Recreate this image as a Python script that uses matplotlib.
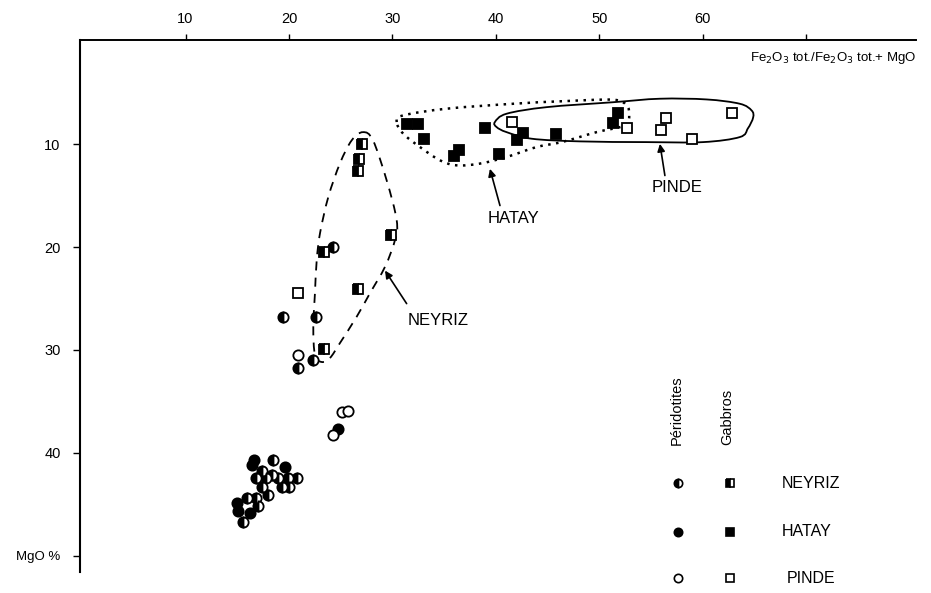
import numpy as np
import matplotlib.pyplot as plt
from matplotlib.path import Path
from matplotlib.patches import PathPatch

plt.rcParams['font.family'] = ['Liberation Sans', 'DejaVu Sans']

# --- peridotites (circles) ---
ney_per_x = [24.28, 19.39, 22.58, 20.90, 22.35,
             18.43, 17.36, 18.33, 16.78, 17.75, 18.97, 19.93, 20.74,
             19.29, 20.03, 17.36, 17.94, 15.91, 16.78, 17.03, 15.58]
ney_per_y = [20.03, 26.83, 26.83, 31.78, 30.97,
             40.68, 41.75, 42.14, 42.46, 42.46, 42.46, 42.46, 42.46,
             43.37, 43.37, 43.37, 44.15, 44.40, 44.40, 45.21, 46.73]
hat_per_x = [24.76, 16.65, 16.45, 19.61, 14.95, 15.10, 16.23]
hat_per_y = [37.70, 40.68, 41.17, 41.43, 44.88, 45.70, 45.85]
pin_per_x = [20.90, 25.09, 25.67, 24.28]
pin_per_y = [30.49, 35.99, 35.89, 38.25]

# --- gabbros (squares) ---
ney_gab_x = [27.08, 26.79, 26.67, 23.38, 29.83, 26.64, 23.41]
ney_gab_y = [10.00, 11.43, 12.59, 20.49, 18.83, 24.05, 29.93]
hat_gab_x = [31.43, 32.49, 33.04, 38.97, 36.40, 35.94, 40.29, 42.58, 42.00, 45.77, 51.76, 51.28]
hat_gab_y = [7.99, 7.99, 9.51, 8.38, 10.58, 11.14, 10.90, 8.90, 9.61, 9.03, 6.92, 7.93]
pin_gab_x = [20.90, 41.52, 52.69, 56.40, 55.91, 58.91, 62.80]
pin_gab_y = [24.50, 7.86, 8.38, 7.48, 8.57, 9.51, 6.92]

# --- envelopes ---
ney_env_x = [27.15, 28.12, 29.44, 30.41, 30.24, 29.28, 27.83, 26.54, 24.93, 23.96,
             23.16, 22.51, 22.35, 22.51, 22.68, 23.00, 23.80, 24.93, 26.06]
ney_env_y = [8.81, 9.61, 13.50, 17.38, 19.32, 21.91, 24.47, 26.77, 29.32, 30.78,
             31.17, 30.49, 27.74, 24.47, 21.26, 18.64, 15.12, 11.84, 9.61]
hat_env_x = [30.41, 31.04, 35.24, 41.67, 46.50, 51.33, 52.63, 52.88, 52.46, 49.73,
             46.35, 43.93, 41.03, 38.45, 36.20, 34.59, 32.66, 31.04]
hat_env_y = [7.83, 7.18, 6.53, 6.05, 5.80, 5.66, 6.21, 7.18, 8.16, 8.81,
             9.78, 10.26, 11.23, 11.87, 12.04, 11.55, 10.26, 8.96]
pin_env_x = [39.90, 41.03, 44.90, 51.33, 55.85, 60.36, 63.57, 64.71, 64.86, 64.35,
             63.57, 60.03, 54.56, 48.12, 43.45, 41.03, 40.07]
pin_env_y = [7.83, 7.02, 6.38, 5.90, 5.56, 5.63, 6.05, 6.70, 7.38, 8.45,
             9.29, 9.78, 9.78, 9.71, 9.45, 8.81, 8.32]

x_ticks = [10, 20, 30, 40, 50, 60, 70]
x_tick_labels = ['10', '20', '30', '40', '50', '60', '']
y_ticks = [10, 20, 30, 40, 50]
y_tick_labels = ['10', '20', '30', '40', 'MgO %']


def closed_smooth(xs, ys):
    # closed Catmull-Rom curve turned into cubic bezier path
    p = np.column_stack([xs, ys])
    n = len(p)
    verts = [p[0]]
    codes = [Path.MOVETO]
    for i in range(n):
        p0, p1, p2, p3 = p[i - 1], p[i], p[(i + 1) % n], p[(i + 2) % n]
        verts += [p1 + (p2 - p0) / 6, p2 - (p3 - p1) / 6, p2]
        codes += [Path.CURVE4] * 3
    return Path(verts, codes)


fig = plt.figure(figsize=(9.31, 5.93), dpi=100)
ax = fig.add_axes([0.0859, 0.0354, 0.898, 0.8971])

ax.add_patch(PathPatch(closed_smooth(ney_env_x, ney_env_y), fill=False, lw=1.3,
                       ls=(0, (5, 4)), ec='k'))
ax.add_patch(PathPatch(closed_smooth(hat_env_x, hat_env_y), fill=False, lw=1.8,
                       ls=(0, (1, 2.2)), ec='k'))
ax.add_patch(PathPatch(closed_smooth(pin_env_x, pin_env_y), fill=False, lw=1.3, ec='k'))

ms = 7.4
mew = 1.3
ax.plot(ney_per_x, ney_per_y, 'o', ms=ms, mew=mew, mec='k', mfc='k', mfcalt='w', fillstyle='left')
ax.plot(hat_per_x, hat_per_y, 'o', ms=ms, mew=mew, mec='k', mfc='k')
ax.plot(pin_per_x, pin_per_y, 'o', ms=ms, mew=mew, mec='k', mfc='w')
ax.plot(ney_gab_x, ney_gab_y, 's', ms=ms - 0.9, mew=mew, mec='k', mfc='k', mfcalt='w', fillstyle='left')
ax.plot(hat_gab_x, hat_gab_y, 's', ms=ms - 0.9, mew=mew, mec='k', mfc='k')
ax.plot(pin_gab_x, pin_gab_y, 's', ms=ms - 0.9, mew=mew, mec='k', mfc='w')

# arrows + group names
arrow = dict(arrowstyle='-|>', lw=1.2, color='k', mutation_scale=11, shrinkA=0, shrinkB=0)
ax.annotate('', xy=(29.28, 22.28), xytext=(31.37, 25.49), arrowprops=arrow)
ax.annotate('', xy=(39.42, 12.38), xytext=(40.39, 15.95), arrowprops=arrow)
ax.annotate('', xy=(55.85, 9.95), xytext=(56.33, 13.03), arrowprops=arrow)
ax.text(31.5, 27.14, 'NEYRIZ', fontsize=12, ha='left', va='center')
ax.text(41.74, 17.22, 'HATAY', fontsize=12, ha='center', va='center')
ax.text(57.49, 14.17, 'PINDE', fontsize=12, ha='center', va='center')

# legend block
tr = ax.transAxes
ax.text(0.714, 0.2387, 'Péridotites', rotation=90, fontsize=10.5, ha='center', va='bottom', transform=tr)
ax.text(0.7743, 0.2387, 'Gabbros', rotation=90, fontsize=10.5, ha='center', va='bottom', transform=tr)
rows = [0.1667, 0.0758, -0.0118]
names = ['NEYRIZ', 'HATAY', 'PINDE']
styles = [dict(mfc='k', mfcalt='w', fillstyle='left'), dict(mfc='k'), dict(mfc='w')]
for yy, nm, st in zip(rows, names, styles):
    ax.plot([0.7153], [yy], 'o', ms=6, mew=1.2, mec='k', transform=tr, clip_on=False, **st)
    ax.plot([0.7775], [yy], 's', ms=5.8, mew=1.2, mec='k', transform=tr, clip_on=False, **st)
    ax.text(0.8393 if nm != 'PINDE' else 0.8453, yy, nm, fontsize=11.5, ha='left', va='center',
            transform=tr)

ax.set_xlim(-0.2, 80.6)
ax.set_ylim(51.6, -0.15)
for s in ['right', 'bottom']:
    ax.spines[s].set_visible(False)
ax.spines['top'].set_linewidth(1.4)
ax.spines['left'].set_linewidth(1.5)
ax.xaxis.tick_top()
ax.set_xticks(x_ticks)
ax.set_xticklabels(x_tick_labels)
ax.set_yticks(y_ticks)
ax.set_yticklabels(y_tick_labels)
ax.tick_params(axis='x', direction='out', length=4, width=1, pad=6, labelsize=10.5)
ax.tick_params(axis='y', direction='out', length=5, width=1, pad=9, labelsize=10.5)
ax.get_yticklabels()[-1].set_fontsize(9.5)

ax.text(1.0, 0.966, r'Fe$_2$O$_3$ tot./Fe$_2$O$_3$ tot.+ MgO', fontsize=9.5, ha='right', va='center',
        transform=tr)

fig.savefig('out.png', dpi=100)
